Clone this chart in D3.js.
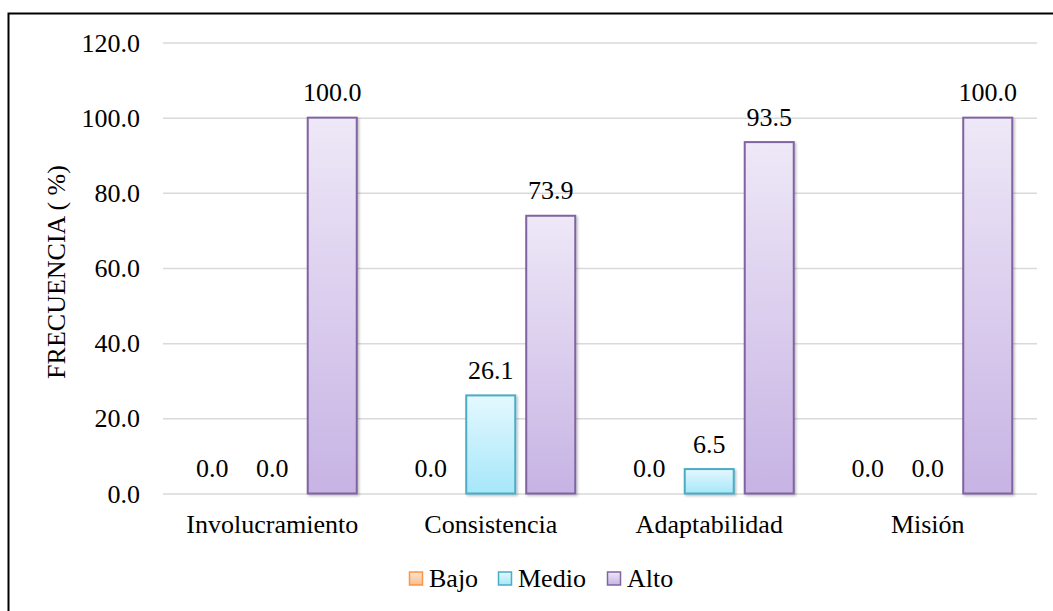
<!DOCTYPE html>
<html><head><meta charset="utf-8">
<script src="https://cdn.jsdelivr.net/npm/d3@7"></script>
<style>body{margin:0;background:#fff}svg{display:block}text{font-family:"Liberation Serif","Tinos","Times New Roman",Times,serif;fill:#000}</style>
</head><body><svg id="c" width="1053" height="611"></svg>
<script>
const categories = ["Involucramiento","Consistencia","Adaptabilidad","Misión"];
const seriesNames = ["Bajo","Medio","Alto"];
const bajo  = [0.0, 0.0, 0.0, 0.0];
const medio = [0.0, 26.1, 6.5, 0.0];
const alto  = [100.0, 73.9, 93.5, 100.0];
const yTicks = [0,20,40,60,80,100,120];
const yTitle = "FRECUENCIA ( %)";

const FS = 26;
const svg = d3.select("#c");
const W=1053,H=611;
const m={l:163,r:16};
const x0 = d3.scaleBand().domain(categories).range([m.l, W-m.r]).paddingInner(0).paddingOuter(0);
const x1 = d3.scaleBand().domain(seriesNames).range([-84.5,84.5]).paddingInner(0.183).paddingOuter(0);
const y = d3.scaleLinear().domain([0,120]).range([493.5, 42.5]);

// frame
svg.append("path").attr("d","M8.5,700 L8.5,13.5 L1100,13.5").attr("fill","none").attr("stroke","#000").attr("stroke-width",2);

const defs = svg.append("defs");
const cols = {
  Bajo:{top:"#fde3cf",bot:"#f9bf90",stroke:"#f79646"},
  Medio:{top:"#e4f8fe",bot:"#a6e7f9",stroke:"#4bacc6"},
  Alto:{top:"#eee8f7",bot:"#c7b3e4",stroke:"#8064a2"}
};
seriesNames.forEach(s=>{
  const g=defs.append("linearGradient").attr("id","g"+s).attr("x1",0).attr("y1",0).attr("x2",0).attr("y2",1);
  g.append("stop").attr("offset","0%").attr("stop-color",cols[s].top);
  g.append("stop").attr("offset","100%").attr("stop-color",cols[s].bot);
});
const f=defs.append("filter").attr("id","sh").attr("x","-20%").attr("y","-20%").attr("width","150%").attr("height","150%");
f.append("feDropShadow").attr("dx",1.5).attr("dy",1.5).attr("stdDeviation",1.2).attr("flood-color","#000").attr("flood-opacity",0.25);

// grid
const yAxis = d3.axisLeft(y).tickValues(yTicks).tickFormat(d3.format(".1f")).tickSize(-(W-m.l-m.r)).tickPadding(23);
const ga = svg.append("g").attr("transform",`translate(${m.l},0)`).call(yAxis);
ga.select(".domain").remove();
ga.selectAll(".tick line").attr("stroke","#d9d9d9").attr("stroke-width",1.5);
ga.selectAll(".tick text").attr("font-size",FS).attr("fill","#000").attr("dy","0.33em").attr("x",-23);

const data = categories.map((c,i)=>({c, vals:[{s:"Bajo",v:bajo[i]},{s:"Medio",v:medio[i]},{s:"Alto",v:alto[i]}]}));
const cg = svg.append("g").selectAll("g").data(data).join("g")
  .attr("transform",d=>`translate(${x0(d.c)+x0.bandwidth()/2},0)`);
cg.selectAll("rect").data(d=>d.vals.filter(v=>v.v>0)).join("rect")
  .attr("x",d=>x1(d.s)).attr("width",x1.bandwidth())
  .attr("y",d=>y(d.v)).attr("height",d=>y(0)-y(d.v))
  .attr("fill",d=>`url(#g${d.s})`).attr("stroke",d=>cols[d.s].stroke).attr("stroke-width",2)
  .attr("filter","url(#sh)");
cg.selectAll("text").data(d=>d.vals).join("text")
  .attr("x",d=>x1(d.s)+x1.bandwidth()/2).attr("y",d=>y(d.v)-16.5)
  .attr("text-anchor","middle").attr("font-size",FS).text(d=>d3.format(".1f")(d.v));

// x labels
const xAxis = d3.axisBottom(x0).tickSize(0).tickPadding(0);
const gx = svg.append("g").attr("transform",`translate(0,${y(0)})`).call(xAxis);
gx.select(".domain").remove();
gx.selectAll(".tick text").attr("font-size",FS).attr("fill","#000").attr("dy",0).attr("y",39.5);

// y title
svg.append("text").attr("transform",`translate(65,272) rotate(-90)`).attr("text-anchor","middle").attr("font-size",FS).text(yTitle);

// legend
const leg = svg.append("g").attr("transform","translate(0,578.5)");
const legX=[409,498,607];
seriesNames.forEach((s,i)=>{
  leg.append("rect").attr("x",legX[i]+0.5).attr("y",-6.5).attr("width",13).attr("height",13)
    .attr("fill",`url(#g${s})`).attr("stroke",cols[s].stroke).attr("stroke-width",1.5);
  leg.append("text").attr("x",legX[i]+20).attr("y",8.5).attr("font-size",FS).text(s);
});
</script></body></html>
